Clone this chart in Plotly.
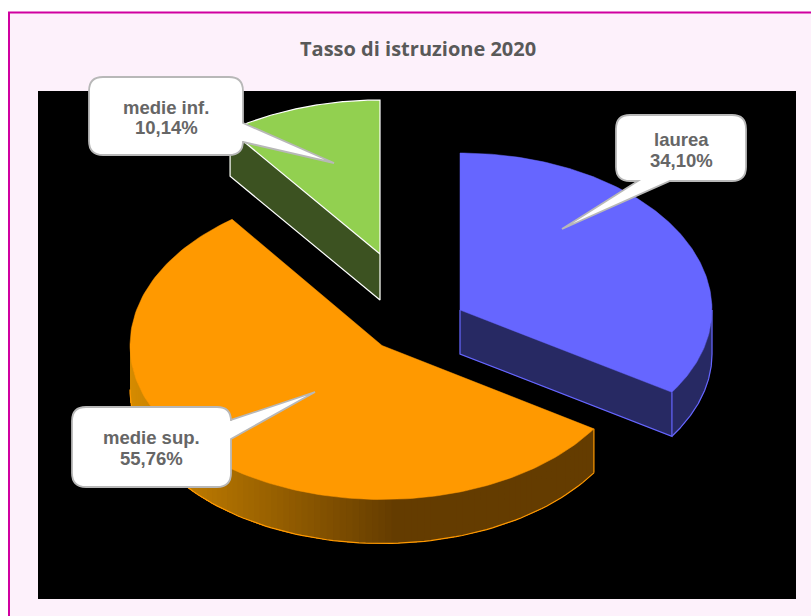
import numpy as np
import plotly.graph_objects as go

# ---- data ----
categories = ["laurea", "medie sup.", "medie inf."]
values = [34.10, 55.76, 10.14]
value_labels = ["34,10%", "55,76%", "10,14%"]
title_text = "Tasso di istruzione 2020"

# ---- styling / projection ----
top_colors = ["#6666ff", "#ff9900", "#92d050"]
side_colors = ["#272963", "#643c00", "#3c5221"]
edge_colors = ["#6666ff", "#ff9900", "#ffffff"]
apexes = [(460, 310), (382, 345.5), (380, 254)]
radii_y_upper = [157, 157, 154]
radii_y_lower = [152, 154, 154]
RX = 252
DEPTH = 44
W, H = 811, 616

fig = go.Figure()


def proj(i, t):
    a = apexes[i]
    c = np.cos(t)
    ry = np.where(c >= 0, radii_y_upper[i], radii_y_lower[i])
    return a[0] + RX * np.sin(t), a[1] - ry * c


def poly(xs, ys, fill, line=None, lw=1.0):
    fig.add_trace(go.Scatter(
        x=list(xs) + [xs[0]], y=list(ys) + [ys[0]], mode="lines", fill="toself",
        fillcolor=fill, line=dict(color=line or fill, width=lw),
        hoverinfo="skip", showlegend=False))


def stroke(xs, ys, color, lw=1.2):
    fig.add_trace(go.Scatter(x=list(xs), y=list(ys), mode="lines",
                             line=dict(color=color, width=lw),
                             hoverinfo="skip", showlegend=False))


total = sum(values)
edges = np.concatenate([[0], np.cumsum(values)]) / total * 2 * np.pi


def lerp_color(x):
    # shading of the round side, from bright (left) to dark (right)
    f = np.clip((x - 130) / (400 - 130), 0, 1)
    c0, c1 = np.array([214, 140, 0]), np.array([100, 60, 0])
    return "rgb(%d,%d,%d)" % tuple((c0 + (c1 - c0) * f).astype(int))


def draw_slice(i):
    a = apexes[i]
    t0, t1 = edges[i], edges[i + 1]
    t = np.linspace(t0, t1, 160)
    ax, ay = proj(i, t)
    # round side wall: visible for the lower half of the ellipse
    lo, hi = max(t0, np.pi / 2), min(t1, 1.5 * np.pi)
    if hi > lo:
        s = np.linspace(lo, hi, 100)
        sx, sy = proj(i, s)
        if i == 1:
            # overlapping strips painted right to left give a seamless shade
            for k in range(0, len(s) - 1):
                px, py = sx[k:], sy[k:]
                poly(list(px) + list(px[::-1]), list(py) + list((py + DEPTH)[::-1]),
                     lerp_color(px[0]), lw=0)
        else:
            poly(list(sx) + list(sx[::-1]), list(sy) + list((sy + DEPTH)[::-1]), side_colors[i], lw=0.5)
        stroke(sx, sy + DEPTH, edge_colors[i])
    # straight cut walls that face the viewer
    if i == 0:
        ex, ey = proj(i, t1)
        poly([a[0], ex, ex, a[0]], [a[1], ey, ey + DEPTH, a[1] + DEPTH], side_colors[i], lw=0.5)
        stroke([a[0], a[0], ex, ex], [a[1], a[1] + DEPTH, ey + DEPTH, ey], edge_colors[i])
        rx, ry = proj(i, np.pi / 2)
        stroke([rx, rx], [ry, ry + DEPTH], edge_colors[i])
    if i == 1:
        ex, ey = proj(i, t0)
        stroke([ex, ex], [ey, ey + DEPTH], edge_colors[i])
    if i == 2:
        ex, ey = proj(i, t0)
        poly([a[0], ex, ex, a[0]], [a[1], ey, ey + DEPTH + 2, a[1] + DEPTH + 2], side_colors[i], lw=0.5)
        stroke([ex, ex, a[0], a[0]], [ey, ey + DEPTH + 2, a[1] + DEPTH + 2, a[1]], edge_colors[i])
    # top face
    poly([a[0]] + list(ax), [a[1]] + list(ay), top_colors[i],
         line=edge_colors[i] if i == 2 else top_colors[i], lw=1.2 if i == 2 else 0.5)


for idx in (1, 2, 0):
    draw_slice(idx)


def callout(x0, y0, x1, y1, base, tip, side, r=14):
    if side == "bottom":
        tail = f"L{base[1]},{y1} L{tip[0]},{tip[1]} L{base[0]},{y1} "
        right = f"L{x1},{y1 - r} "
        bottom = tail
    else:
        right = f"L{x1},{base[0]} L{tip[0]},{tip[1]} L{x1},{base[1]} L{x1},{y1 - r} "
        bottom = ""
    return (f"M{x0 + r},{y0} L{x1 - r},{y0} Q{x1},{y0} {x1},{y0 + r} " + right +
            f"Q{x1},{y1} {x1 - r},{y1} " + bottom + f"L{x0 + r},{y1} Q{x0},{y1} {x0},{y1 - r} "
            f"L{x0},{y0 + r} Q{x0},{y0} {x0 + r},{y0} Z")


boxes = [
    dict(b=(616, 115, 746, 181), base=(638, 670), tip=(562, 229), side="bottom", ty=(139, 160)),
    dict(b=(72, 407, 231, 487), base=(420, 439), tip=(315, 392), side="right", ty=(437, 458)),
    dict(b=(89, 77, 243, 155), base=(123, 142), tip=(334, 163), side="right", ty=(107, 127)),
]
order_idx = [2, 1, 0]
shapes = [
    dict(type="rect", xref="x", yref="y", x0=9, y0=12.5, x1=840, y1=700, layer="below",
         fillcolor="#fdf1fb", line=dict(color="#d000a0", width=2)),
    dict(type="rect", xref="x", yref="y", x0=38, y0=91, x1=796, y1=599, layer="below",
         fillcolor="#000000", line=dict(width=0)),
]
annotations = [dict(x=417.5, y=48, xref="x", yref="y", text=f"<b>{title_text}</b>", showarrow=False,
                    font=dict(family="Open Sans", size=20, color="#595959"))]
for i in order_idx:
    bx = boxes[i]
    x0, y0, x1, y1 = bx["b"]
    shapes.append(dict(type="path", xref="x", yref="y", layer="above",
                       path=callout(x0, y0, x1, y1, bx["base"], bx["tip"], bx["side"]),
                       fillcolor="#ffffff", line=dict(color="#b8b8b8", width=1.8)))
    cx = (x0 + x1) / 2
    for txt, yy in zip((categories[i], value_labels[i]), bx["ty"]):
        annotations.append(dict(x=cx, y=yy, xref="x", yref="y", text=f"<b>{txt}</b>", showarrow=False,
                                font=dict(family="Liberation Sans", size=18.5, color="#666666")))

fig.update_layout(
    width=W, height=H, margin=dict(l=0, r=0, t=0, b=0), paper_bgcolor="#ffffff", plot_bgcolor="rgba(0,0,0,0)",
    showlegend=False, shapes=shapes, annotations=annotations,
    xaxis=dict(range=[0, W], visible=False, fixedrange=True, constrain="domain"),
    yaxis=dict(range=[H, 0], visible=False, fixedrange=True),
)
fig.write_html("out.html", config=dict(displayModeBar=False),
               post_script="document.body.style.margin='0';document.body.style.overflow='hidden';")
